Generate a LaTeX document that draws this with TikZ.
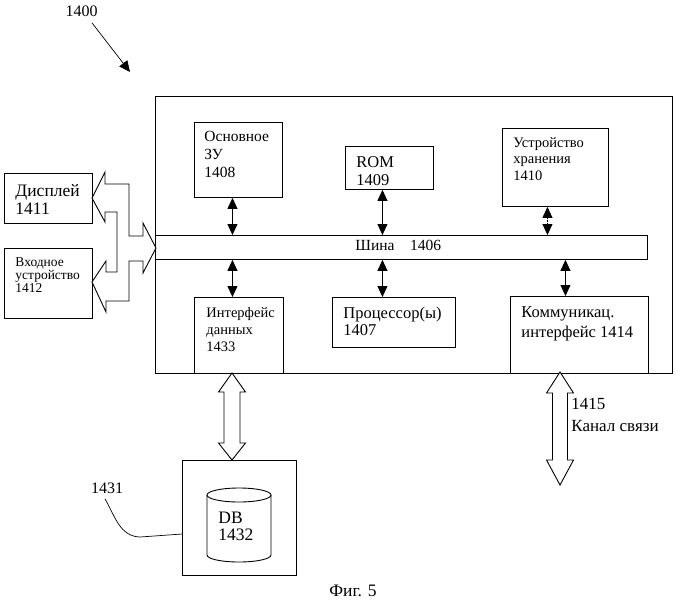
\documentclass[tikz,border=0pt]{standalone}
\usepackage{fontspec}
\setmainfont{Liberation Serif}
\usetikzlibrary{arrows.meta}

\begin{document}
\begin{tikzpicture}[x=1pt,y=-1pt,>={Triangle[length=11pt,width=10pt]},line width=0.9pt,
  blk/.style={draw,rectangle,anchor=north west,inner sep=0pt},
  lbl/.style={anchor=north west,align=left,inner sep=0pt},
  hollow/.style={draw,fill=white,line join=miter}]
\useasboundingbox (0,0) rectangle (676,600);

% computer 1400
\node[blk,minimum width=517pt,minimum height=277pt] (sys) at (155,96) {};
\node[blk,minimum width=492pt,minimum height=24pt] (bus) at (155,235) {};
\node[blk,minimum width=88pt,minimum height=75pt] (zu) at (194,122) {};
\node[blk,minimum width=88pt,minimum height=43pt] (rom) at (345,146) {};
\node[blk,minimum width=106pt,minimum height=78pt] (hdd) at (502,128) {};
\node[blk,minimum width=89pt,minimum height=76pt] (ifd) at (194,297) {};
\node[blk,minimum width=123pt,minimum height=50pt] (cpu) at (332,297) {};
\node[blk,minimum width=138pt,minimum height=77pt] (comm) at (510,296) {};
\node[blk,minimum width=88pt,minimum height=50pt] (disp) at (4,173) {};
\node[blk,minimum width=88pt,minimum height=70pt] (inp) at (4,248) {};
\node[blk,minimum width=114pt,minimum height=115pt] (db) at (182,460) {};

\node[lbl,font=\fontsize{15.5}{18}\selectfont] (zuT) at (204,131) {Основное\\ЗУ\\1408};
\node[lbl,font=\fontsize{16.5}{18}\selectfont] (romT) at (356,156) {ROM\\1409};
\node[lbl,font=\fontsize{14.5}{16.5}\selectfont] (hddT) at (513,137) {Устройство\\хранения\\1410};
\node[lbl,font=\fontsize{15.5}{17}\selectfont] (busT) at (355,240) {Шина\quad 1406};
\node[lbl,font=\fontsize{14.5}{17}\selectfont] (ifdT) at (206,307) {Интерфейс\\данных\\1433};
\node[lbl,font=\fontsize{16.5}{17}\selectfont] (cpuT) at (343,307) {Процессор(ы)\\1407};
\node[lbl,font=\fontsize{16.5}{20}\selectfont] (commT) at (521,306) {Коммуникац.\\интерфейс 1414};
\node[lbl,font=\fontsize{17.5}{18}\selectfont] (dispT) at (15,184) {Дисплей\\1411};
\node[lbl,font=\fontsize{13.5}{13}\selectfont] (inpT) at (15,257) {Входное\\устройство\\1412};
\node[lbl,font=\fontsize{17.5}{17}\selectfont] (dbT) at (218,512) {DB\\1432};
\node[lbl,font=\fontsize{17}{22}\selectfont] (chT) at (571,398) {1415\\Канал связи};
\node[font=\fontsize{16}{17}\selectfont,inner sep=0pt] (n1431) at (107,488) {1431};
\node[font=\fontsize{16}{17}\selectfont,inner sep=0pt] (n1400) at (81.5,11) {1400};
\node[font=\fontsize{17.5}{18}\selectfont,inner sep=0pt] (fig) at (353,591) {Фиг. 5};

% bus links
\draw[<->] ([xshift=-6pt]zu.south) -- ([xshift=-6pt]zu.south |- bus.north);
\draw[<->] ([xshift=-7pt]rom.south) -- ([xshift=-7pt]rom.south |- bus.north);
\draw[<->,densely dotted] ([xshift=-8pt]hdd.south) -- ([xshift=-8pt]hdd.south |- bus.north);
\draw[<->] ([xshift=-6.5pt]ifd.north) -- ([xshift=-6.5pt]ifd.north |- bus.south);
\draw[<->] ([xshift=-11.5pt]cpu.north) -- ([xshift=-11.5pt]cpu.north |- bus.south);
\draw[<->] ([xshift=-14pt]comm.north) -- ([xshift=-14pt]comm.north |- bus.south);

% wide arrows
\draw[hollow] (92,198) -- (105,172) -- (105,184) -- (129,184) -- (129,236) -- (143,236)
  -- (143,223) -- (156,248) -- (143,273) -- (143,261) -- (129,261) -- (129,301)
  -- (106,301) -- (106,312) -- (92,282) -- (106,261) -- (106,272) -- (117,272)
  -- (117,212) -- (105,212) -- (105,222) -- cycle;
\draw[hollow] (232,373) -- (245.5,392) -- (240,392) -- (240,443) -- (245.5,443) -- (232,460)
  -- (218.5,443) -- (224,443) -- (224,392) -- (218.5,392) -- cycle;
\draw[hollow] (560,372) -- (573.5,393) -- (567.5,393) -- (567.5,460) -- (573.5,460) -- (560,485)
  -- (546.5,460) -- (552.5,460) -- (552.5,393) -- (546.5,393) -- cycle;

% database
\draw (207,495) -- (207,555) arc[start angle=180,end angle=360,x radius=32pt,y radius=7pt] -- (271,495);
\draw (239,495) ellipse [x radius=32pt,y radius=7pt];

\coordinate (dbin) at (182,534);
\draw[line width=0.7pt] ([xshift=-2pt,yshift=-5pt]n1431.south) to[out=-60,in=178] (140,537) -- (dbin);
\coordinate (tip1400) at (130,72);
\draw[->,line width=0.7pt] ([xshift=10.5pt,yshift=-6pt]n1400.south) -- (tip1400);
\end{tikzpicture}
\end{document}
